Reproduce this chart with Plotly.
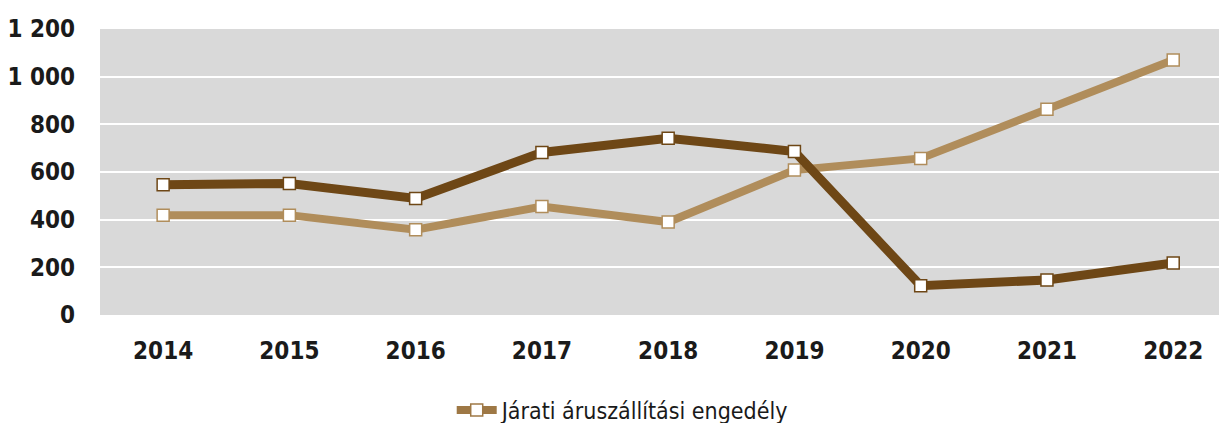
import plotly.graph_objects as go

years = ["2014", "2015", "2016", "2017", "2018", "2019", "2020", "2021", "2022"]
dark_values = [546, 552, 489, 682, 742, 686, 123, 147, 218]
light_values = [419, 419, 358, 455, 390, 608, 657, 863, 1070]
legend_label = "Járati áruszállítási engedély"
y_tickvals = [0, 200, 400, 600, 800, 1000, 1200]
y_ticktext = ["0", "200", "400", "600", "800", "1 000", "1 200"]

DARK = "#6E4716"
LIGHT = "#B08D5B"
LEGEND_C = "#9E7845"
FONT = "DejaVu Sans Condensed, Liberation Sans Narrow, sans-serif"

fig = go.Figure()
fig.add_trace(go.Scatter(
    x=years, y=light_values, mode="lines+markers", showlegend=False,
    line=dict(color=LIGHT, width=8),
    marker=dict(symbol="square", size=12, color="white", line=dict(color=LIGHT, width=1.5)),
))
fig.add_trace(go.Scatter(
    x=years, y=dark_values, mode="lines+markers", showlegend=False,
    line=dict(color=DARK, width=9),
    marker=dict(symbol="square", size=12, color="white", line=dict(color=DARK, width=1.5)),
))
fig.add_trace(go.Scatter(
    x=[None], y=[None], mode="lines+markers", name=legend_label,
    line=dict(color=LEGEND_C, width=8),
    marker=dict(symbol="square", size=12, color="white", line=dict(color=LEGEND_C, width=1.5)),
))

# page body has an 8px default margin, so the figure is 8px smaller
fig.update_layout(
    width=1219, height=415,
    margin=dict(l=92, r=0, t=21, b=108),
    paper_bgcolor="white", plot_bgcolor="#D9D9D9",
    font=dict(family=FONT, color="#1a1a1a"),
    showlegend=True,
    legend=dict(orientation="h", xref="container", yref="container",
                x=0.364, xanchor="left", y=0.031, yanchor="middle",
                font=dict(size=23, family=FONT, color="#1a1a1a"),
                itemwidth=40),
)
fig.update_xaxes(
    type="category", range=[-0.5, 8.426], showgrid=False, zeroline=False,
    showline=False, ticks="", tickfont=dict(size=24, family=FONT, weight="bold"),
    ticklabelstandoff=19, automargin=False,
)
fig.update_yaxes(
    range=[0, 1200], tickvals=y_tickvals, ticktext=y_ticktext,
    showgrid=True, gridcolor="white", gridwidth=2, zeroline=False, showline=False,
    tickfont=dict(size=24, family=FONT, weight="bold"), ticklabelstandoff=24,
    automargin=False,
)
fig.write_html("out.html")
